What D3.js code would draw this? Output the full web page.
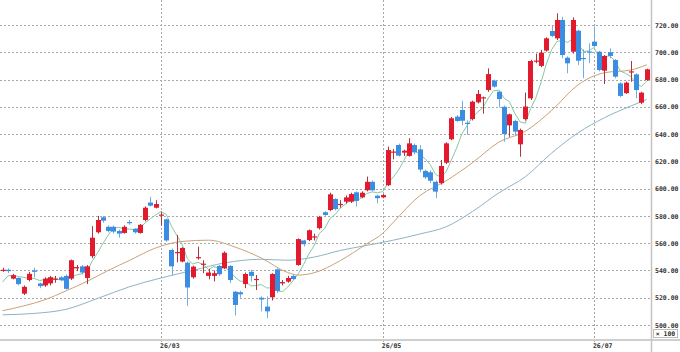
<!DOCTYPE html>
<html>
<head>
<meta charset="utf-8">
<script src="https://cdn.jsdelivr.net/npm/d3@7"></script>
<style>
  html, body { margin: 0; padding: 0; background: #fff; }
  svg { display: block; }
  .lbl { font-family: "DejaVu Sans Mono", monospace; font-size: 6.5px; font-weight: bold; fill: #333; }
</style>
</head>
<body>
<svg id="chart"></svg>
<script>
// daily candles, one entry per trading day
const open = [540, 540.5, 534, 534.5, 523, 533, 540, 530.5, 529, 530.5,
  533.5, 535, 536, 534, 541.5, 543, 534.5, 550.5, 568, 579,
  572, 572, 569, 567.5, 575.5, 570.5, 567.5, 577, 589.8, 586,
  580.3, 577.5, 555, 553, 546.5, 545.7, 535, 549.3, 544.5, 536,
  536, 543.3, 541.6, 543.3, 524.4, 524, 530, 539, 533.2, 520,
  513.5, 520.3, 540.8, 530.5, 531.8, 536, 544, 562, 562.3, 564.5,
  571, 582.7, 584.3, 592.4, 588.2, 590.4, 590.4, 597.3, 593.6, 598.8,
  605, 594.8, 593.6, 602.5, 626.7, 632, 626.4, 624, 632, 628.8,
  613, 612, 605, 604, 619, 636.2, 652.8, 657.7, 648.3, 651,
  663.3, 666.4, 672.3, 679.2, 671.1, 660, 646.4, 649.6, 632.5, 651,
  666.2, 693.3, 690, 701.2, 715.6, 710.2, 723.7, 696, 700.4, 715.8,
  695.8, 700.6, 707.8, 700.4, 686.5, 700, 694.3, 677.2, 670, 685.5,
  683.8, 663, 679.7];
const high = [542, 541.5, 537.5, 535, 529, 539, 542, 531, 535, 536,
  536, 536, 537, 548, 544, 544, 544, 572.5, 580, 580,
  573, 573, 570, 573, 577, 571, 574, 587, 594, 591.5,
  583, 578, 556, 566, 557, 546.5, 543.5, 557.5, 547.5, 541,
  540, 544, 554, 544, 525, 525, 538.5, 540.5, 536.7, 521,
  521, 538, 541.5, 533, 536, 537, 563.5, 562.5, 570, 567,
  580, 583.5, 597, 593, 591.5, 595, 597, 598, 598, 608.8,
  606, 595.5, 596, 630.8, 629, 633, 628.5, 637, 633, 632,
  614, 613.5, 606, 621, 634, 652.5, 654, 664.5, 650, 664.5,
  672.3, 667.5, 688.2, 680, 672, 661, 655, 650.5, 644, 670.5,
  694.5, 699, 701.7, 711, 719.3, 728.6, 726, 697, 725.6, 716.5,
  702.2, 706.6, 718.8, 701, 698, 702.9, 695, 678, 678.5, 693.6,
  684.6, 671, 688];
const low = [539, 538, 533.5, 529, 522, 532, 535, 527, 528, 529,
  531, 532, 526, 533, 539.5, 537, 530, 549, 567, 575,
  568, 567, 564, 567, 573.5, 567, 567, 576, 587, 585.5,
  573, 561, 536.5, 546, 546, 514, 534, 548, 538, 533.5,
  532, 536, 541, 530.8, 507, 520, 527, 532, 525.7, 510,
  505, 518, 523.5, 529, 531, 533, 543.5, 557.5, 561.5, 562,
  570, 580, 583.5, 584, 586, 589, 589.5, 586.8, 593, 598,
  598, 589.3, 593, 602, 621.5, 623.5, 624, 623.5, 625, 612,
  607, 604, 593, 603, 618, 635.5, 649, 646.5, 639.5, 650,
  662.5, 655, 671, 674, 659.6, 634.4, 638, 639, 623.4, 650,
  665, 692, 689, 700.5, 711, 709, 695.6, 684.6, 699, 690.7,
  681, 692, 703.5, 686, 676.7, 695.6, 681, 667, 669.5, 678.4,
  666.3, 662, 679];
const close = [540.5, 539.5, 536.5, 530, 528, 537.5, 539, 528.5, 534, 535,
  534, 533, 526.5, 547.5, 542.5, 538.5, 543, 564, 577, 576.5,
  569, 568.5, 567, 572, 575, 568, 573.5, 586, 587.5, 588.7,
  581, 562, 543, 553.5, 556.5, 527.5, 542.8, 549.8, 545, 538.5,
  538, 537.2, 553, 533, 514.7, 522.5, 537.4, 536, 533.8, 518.7,
  510, 537.4, 525, 531.5, 534.5, 533.7, 563, 559.2, 569.5, 565,
  579.2, 580.7, 595.8, 585, 588.8, 593.6, 596, 591, 597, 605,
  598.8, 593, 595.3, 628.3, 627.2, 624.2, 627.8, 633.2, 626.6, 614,
  608.3, 605.8, 597.8, 616.6, 633.2, 651.6, 649.6, 649.8, 647.8, 663.8,
  669.4, 667, 684, 674.8, 665.7, 640, 654.5, 641.8, 643, 660.2,
  693.6, 693.9, 699.7, 710.2, 712, 723.7, 698, 691.9, 723.7, 693.8,
  695.3, 700.2, 704.6, 687, 697.3, 697.3, 682.1, 668, 677.7, 686,
  672.3, 670.4, 687.5];

// short moving average, one value per day
const ma5 = [531.5, 536, 536.5, 535.5, 534.9, 534.3, 534.2, 532.6, 533.4, 534.8,
  534.1, 532.9, 532.5, 535.2, 536.7, 537.6, 539.6, 547.1, 553, 559.8,
  565.9, 571, 571.6, 570.6, 570.3, 570.1, 571.1, 574.9, 578, 580.7,
  583.3, 581, 572.4, 565.6, 559.2, 548.5, 544.7, 546, 544.3, 540.7,
  542.8, 541.7, 542.3, 539.9, 535.2, 532.1, 532.1, 528.7, 528.9, 529.7,
  527.2, 527.2, 525, 524.5, 527.7, 532.4, 537.5, 544.4, 552, 558.1,
  567.2, 570.7, 578, 581.1, 585.9, 588.8, 591.8, 590.9, 593.3, 596.5,
  597.6, 597, 597.8, 604.1, 608.5, 613.6, 620.6, 628.1, 627.8, 625.2,
  622, 617.6, 610.5, 608.5, 612.3, 621, 629.8, 640.2, 646.4, 652.5,
  656.1, 659.6, 666.4, 671.8, 672.2, 666.3, 663.8, 655.4, 649, 647.9,
  658.6, 666.5, 678.1, 691.5, 701.9, 707.9, 708.7, 707.2, 709.9, 706.2,
  700.5, 701, 703.5, 696.2, 696.9, 697.3, 693.7, 686.3, 684.5, 682.2,
  677.2, 674.9, 678.8];

// medium moving average, sampled at these day indices
const ma25Day = [0, 4, 8, 12, 16, 20, 24, 29, 34, 39, 44, 49, 54, 56, 59, 64, 69, 72, 74, 79,
  84, 89, 94, 99, 104, 109, 114, 119, 122];
const ma25 = [510.5, 514, 518.5, 525, 532, 540, 547.3, 556.5, 561.3, 562.2, 557.2, 549.1, 538.5, 536.6, 538.3, 547.3, 559.6, 567.2, 575.3, 594.8,
  605.7, 619, 634.1, 642, 657.4, 676.1, 685, 687, 690.8];

// long moving average, sampled at these day indices
const ma50Day = [0, 6, 12, 18, 24, 30, 36, 42, 49, 54, 59, 64, 69, 74, 79, 84, 89, 94, 99, 104,
  109, 114, 119, 122];
const ma50 = [507.5, 508.5, 511.5, 519.5, 528, 534.5, 540, 545.5, 548.2, 547.5, 549.8, 554.7, 558.4, 562.2, 566.7, 572, 583.2, 596.9, 608.7, 626.1,
  640.9, 652, 660.6, 665.4];

const tickDay = [30, 72, 112];
const tickLabel = ["26/03", "26/05", "26/07"];
const yTicks = [500, 520, 540, 560, 580, 600, 620, 640, 660, 680, 700, 720];

const width = 680;
const height = 352;
const plotRight = 651;
const plotBottom = 340;

const svg = d3.select('#chart')
  .attr('width', width)
  .attr('height', height);

const days = d3.range(close.length);
const x = d3.scaleBand()
  .domain(days)
  .range([-0.6, 649.9])
  .padding(0.22);
const cx = i => x(i) + x.bandwidth() / 2;

const y = d3.scaleLinear()
  .domain([500, 720])
  .range([325, 25]);

// dotted grid
svg.append('g')
  .selectAll('line')
  .data(yTicks)
  .enter()
  .append('line')
  .attr('x1', 0)
  .attr('x2', plotRight)
  .attr('y1', d => Math.round(y(d)) + 0.5)
  .attr('y2', d => Math.round(y(d)) + 0.5)
  .attr('stroke', '#a8a8a8')
  .attr('stroke-dasharray', '2,2');

svg.append('g')
  .selectAll('line')
  .data(tickDay)
  .enter()
  .append('line')
  .attr('x1', d => Math.round(cx(d)) + 0.5)
  .attr('x2', d => Math.round(cx(d)) + 0.5)
  .attr('y1', 0)
  .attr('y2', plotBottom + 5)
  .attr('stroke', '#a8a8a8')
  .attr('stroke-dasharray', '2,2');

// moving averages
const lineDaily = d3.line()
  .x((d, i) => cx(i))
  .y(d => y(d));

const lineSampled = d3.line()
  .x(d => cx(d[0]))
  .y(d => y(d[1]))
  .curve(d3.curveMonotoneX);

svg.append('path')
  .attr('d', lineSampled(d3.zip(ma50Day, ma50)))
  .attr('fill', 'none')
  .attr('stroke', '#8db4c4')
  .attr('stroke-width', 1);

svg.append('path')
  .attr('d', lineSampled(d3.zip(ma25Day, ma25)))
  .attr('fill', 'none')
  .attr('stroke', '#c9a27a')
  .attr('stroke-width', 1);

svg.append('path')
  .attr('d', lineDaily(ma5))
  .attr('fill', 'none')
  .attr('stroke', '#86c7a2')
  .attr('stroke-width', 1);

// candles
const candles = svg.append('g')
  .selectAll('g')
  .data(days)
  .enter()
  .append('g');

candles.append('line')
  .attr('x1', i => Math.round(cx(i)) + 0.5)
  .attr('x2', i => Math.round(cx(i)) + 0.5)
  .attr('y1', i => y(high[i]))
  .attr('y2', i => y(low[i]))
  .attr('stroke', i => close[i] >= open[i] ? '#a8363a' : '#72aee6')
  .attr('stroke-width', 1);

candles.append('rect')
  .attr('x', i => Math.round(x(i)))
  .attr('width', Math.round(x.bandwidth()) + 1)
  .attr('y', i => y(Math.max(open[i], close[i])))
  .attr('height', i => Math.max(1.2, Math.abs(y(open[i]) - y(close[i]))))
  .attr('fill', i => close[i] >= open[i] ? '#e31a2d' : '#3b8de2');

// frame
svg.append('line')
  .attr('x1', 0).attr('x2', width)
  .attr('y1', plotBottom).attr('y2', plotBottom)
  .attr('stroke', '#cfcfcf')
  .attr('stroke-width', 2);

svg.append('line')
  .attr('x1', plotRight + 0.5).attr('x2', plotRight + 0.5)
  .attr('y1', 0).attr('y2', height)
  .attr('stroke', '#c4c4c4')
  .attr('stroke-width', 1.5);

// price axis on the right
const yAxis = svg.append('g')
  .attr('transform', `translate(${plotRight + 3},0)`)
  .call(d3.axisRight(y).tickValues(yTicks).tickFormat(d3.format('.2f')).tickSize(0).tickPadding(1));
yAxis.select('.domain').remove();
yAxis.selectAll('text').attr('class', 'lbl');

// date axis
const xAxis = svg.append('g')
  .attr('transform', `translate(0,${plotBottom})`)
  .call(d3.axisBottom(x).tickValues(tickDay).tickFormat(d => tickLabel[tickDay.indexOf(d)]).tickSize(0).tickPadding(3));
xAxis.select('.domain').remove();
xAxis.selectAll('text')
  .attr('class', 'lbl')
  .attr('text-anchor', 'start')
  .attr('dx', -1);

// unit box
svg.append('rect')
  .attr('x', 653.5).attr('y', 329.5)
  .attr('width', 24).attr('height', 8)
  .attr('fill', '#fff')
  .attr('stroke', '#bdbdbd');
svg.append('text')
  .attr('class', 'lbl')
  .attr('x', 665.5).attr('y', 334)
  .attr('text-anchor', 'middle')
  .attr('dominant-baseline', 'middle')
  .text('× 100');
</script>
</body>
</html>
